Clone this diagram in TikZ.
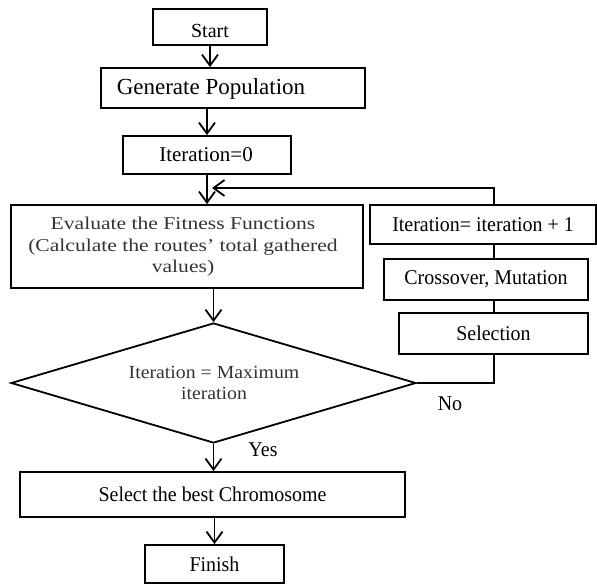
\documentclass[tikz,border=0pt]{standalone}
\usepackage{fontspec}
\setmainfont{Liberation Serif}
\newfontfamily\widefont[FakeStretch=1.2]{Liberation Serif}
\newfontfamily\midfont[FakeStretch=1.07]{Liberation Serif}
\newfontfamily\narrowfont[FakeStretch=0.95]{Liberation Serif}
\usetikzlibrary{arrows.meta,shapes.geometric}
\begin{document}
\begin{tikzpicture}[x=1pt,y=-1pt, line width=1.8pt,
  box/.style={draw, rectangle, inner sep=0pt},
  ntxt/.style={font=\narrowfont\fontsize{21}{23}\selectfont, inner sep=0pt, align=center},
  wtxt/.style={font=\widefont\fontsize{18}{21.5}\selectfont, text=black!80, align=center, inner sep=0pt},
  arr/.style={-{Straight Barb[length=11pt,width=16pt]}},
]
\useasboundingbox (0,0) rectangle (597,584);
% boxes
\node[box, minimum width=114, minimum height=36] (start) at (210,27) {};
\node[inner sep=0pt, font=\fontsize{20}{22}\selectfont] (starttxt) at (210,31) {Start};
\node[box, minimum width=264, minimum height=40] (gen) at (233,88) {};
\node[inner sep=0pt, font=\fontsize{23}{25}\selectfont] (gentxt) at (211,89) {Generate Population};
\node[box, minimum width=168, minimum height=38] (iter0) at (207,155) {};
\node[inner sep=0pt, font=\fontsize{21}{23}\selectfont] (iter0txt) at (206,155) {Iteration=0};
\node[box, minimum width=352, minimum height=83] (eval) at (187,246.5) {};
\node[wtxt] (evaltxt) at (183,247) {Evaluate the Fitness Functions\\(Calculate the routes’ total gathered\\values)};
\node[box, ntxt, minimum width=226, minimum height=39] (iterp) at (483,224.5) {Iteration= iteration + 1};
\node[box, ntxt, minimum width=204, minimum height=41] (cross) at (486,279.5) {Crossover, Mutation};
\node[box, ntxt, minimum width=189, minimum height=41] (sel) at (493.5,333.5) {Selection};
\node[draw, diamond, inner sep=0pt, minimum width=405, minimum height=120] (dia) at (213.5,383) {};
\node[inner sep=0pt, align=center, text=black!80, font=\midfont\fontsize{18.5}{21}\selectfont] (diatxt) at (214,383) {Iteration = Maximum\\iteration};
\node[box, ntxt, minimum width=385, minimum height=45] (best) at (212.5,494.5) {Select the best Chromosome};
\node[box, ntxt, minimum width=139, minimum height=38] (fin) at (214.5,564) {Finish};
\node[ntxt] (no) at (450,404) {No};
\node[ntxt] (yes) at (263,450) {Yes};
% connectors
\coordinate (lp) at (494,188);
\coordinate (lpend) at (212,188);
\draw[arr] (start.south) -- (start.south |- gen.north);
\draw[arr] (iter0.north |- gen.south) -- (iter0.north);
\draw[arr] (iter0.south) -- (iter0.south |- eval.north);
\draw[arr] (lp |- iterp.north) -- (lp) -- (lpend);
\draw (iterp.south -| lp) -- (cross.north -| lp);
\draw (cross.south -| lp) -- (sel.north -| lp);
\draw (sel.south -| lp) |- (dia.east);
\draw[arr] (eval.south -| dia.north) -- (dia.north);
\draw[arr] (dia.south) -- (dia.south |- best.north);
\draw[arr] (best.south -| fin.north) -- (fin.north);
\end{tikzpicture}
\end{document}
